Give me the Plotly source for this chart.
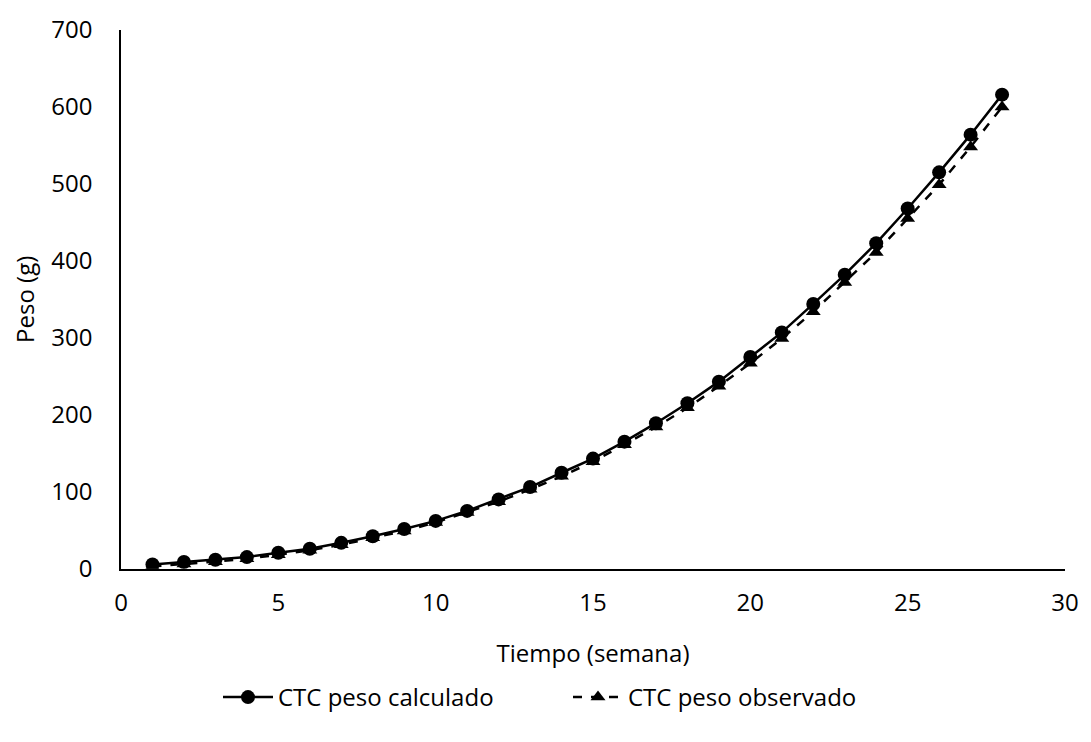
import plotly.graph_objects as go

semana = list(range(1, 29))
peso_calculado = [5.5, 8.6, 11.6, 15, 20.6, 25.8, 33.5, 42, 51.6, 62, 75, 90, 106, 124.6,
                  143, 165, 189, 215, 243, 275, 307, 344, 382, 423, 468, 515, 564, 616]
peso_observado = [3, 6, 9, 13, 18, 24, 31, 40, 49, 60, 73, 87, 103, 120,
                  139, 161, 184, 209, 237, 267, 299, 334, 372, 411, 455, 499, 548, 600]

FONT = "'Open Sans', sans-serif"
FS = 24

fig = go.Figure()
fig.add_trace(go.Scatter(
    x=semana, y=peso_calculado, name="CTC peso calculado",
    mode="lines+markers",
    line=dict(color="black", width=2.5),
    marker=dict(symbol="circle", size=14, color="black"),
))
fig.add_trace(go.Scatter(
    x=semana, y=peso_observado, name="CTC peso observado",
    mode="lines+markers",
    line=dict(color="black", width=2.5, dash="dash"),
    marker=dict(symbol="triangle-up", size=13, color="black"),
))

fig.update_layout(
    width=1091, height=742,
    paper_bgcolor="white", plot_bgcolor="white",
    margin=dict(l=121, r=18, t=27, b=172),
    font=dict(family=FONT, size=FS, color="black"),
    showlegend=True,
    legend=dict(orientation="h", xref="container", yref="container",
                x=218 / 1091, xanchor="left", y=0.06, yanchor="middle",
                font=dict(size=FS), itemwidth=50,
                entrywidth=285, entrywidthmode="pixels"),
    xaxis=dict(range=[0, 30], dtick=5, showgrid=False, zeroline=False,
               showline=True, linecolor="black", linewidth=1.5,
               ticks="", tickfont=dict(size=FS), ticklabelstandoff=12,
               title=dict(text="Tiempo (semana)", font=dict(size=FS), standoff=28)),
    yaxis=dict(range=[0, 700], dtick=100, showgrid=False, zeroline=False,
               showline=True, linecolor="black", linewidth=1.5,
               ticks="", tickfont=dict(size=FS), ticklabelstandoff=22,
               title=dict(text="Peso (g)", font=dict(size=FS), standoff=10)),
)

fig.write_html("out.html")
